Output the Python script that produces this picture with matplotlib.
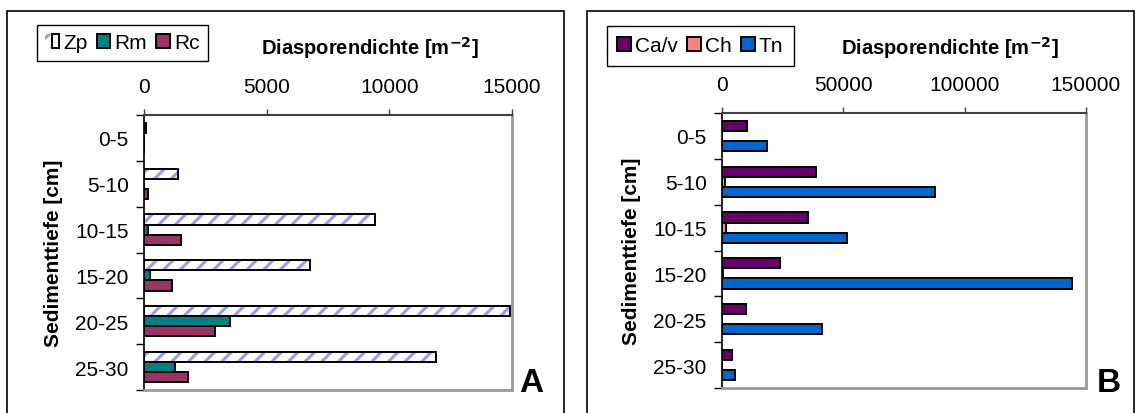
import matplotlib
matplotlib.use("Agg")
import matplotlib.pyplot as plt
from matplotlib.patches import Patch, Rectangle
from matplotlib.legend_handler import HandlerTuple

plt.rcParams['font.family'] = ['Liberation Sans', 'DejaVu Sans']
plt.rcParams['hatch.linewidth'] = 2.2

depths = ["0-5", "5-10", "10-15", "15-20", "20-25", "25-30"]

# Panel A
zp = [100, 1400, 9400, 6780, 14930, 11890]
rm = [0, 0, 150, 250, 3510, 1260]
rc = [0, 150, 1510, 1140, 2890, 1780]

# Panel B
cav = [10100, 38900, 35600, 24100, 10000, 4000]
ch = [0, 1200, 1600, 400, 0, 0]
tn = [18700, 87800, 51400, 144400, 41400, 5200]

W, H = 1135, 414
FS = 15
fig = plt.figure(figsize=(W / 100, H / 100), dpi=100)


def px_axes(left, top, right, bottom):
    return fig.add_axes([left / W, 1 - bottom / H, (right - left) / W, (bottom - top) / H])


def style_axes(ax, xmax, xticks, title_x):
    ax.set_xlim(0, xmax)
    ax.set_ylim(len(depths) - 0.5, -0.5)
    ax.set_xticks(xticks)
    ax.set_xticklabels([str(t) for t in xticks])
    ax.xaxis.tick_top()
    ax.tick_params(axis='x', direction='out', length=4, width=1, pad=10,
                   labelsize=FS, color='#404040')
    ax.set_yticks(range(len(depths)))
    ax.set_yticklabels(depths)
    ax.tick_params(axis='y', which='major', length=0, pad=11, labelsize=FS)
    ax.set_yticks([i - 0.5 for i in range(len(depths) + 1)], minor=True)
    ax.tick_params(axis='y', which='minor', direction='out', length=6, width=1)
    ax.spines['left'].set_color('black')
    ax.spines['left'].set_linewidth(1.2)
    ax.spines['top'].set_color('#404040')
    ax.spines['top'].set_linewidth(1.5)
    for s in ['right', 'bottom']:
        ax.spines[s].set_color('#999999')
        ax.spines[s].set_linewidth(2)
    fig.text(title_x / W, 1 - 48 / H, "Diasporendichte [m$^{\\mathbf{-2}}$]",
             fontsize=14.5, fontweight='bold', ha='center', va='center')
    ax.set_ylabel("Sedimenttiefe [cm]", fontsize=FS, fontweight='bold', labelpad=9)


ypos = list(range(len(depths)))
bh = 0.22
off = 0.22

# --- A ---
axA = px_axes(144, 116, 512, 391)
axA.barh([y - off for y in ypos], zp, height=bh, color='white', edgecolor='#9999ff',
         hatch='//', linewidth=0)
axA.barh([y - off for y in ypos], zp, height=bh, fill=False, edgecolor='black', linewidth=1.4)
axA.barh(ypos, rm, height=bh, color='#008080', edgecolor='black', linewidth=1.4)
axA.barh([y + off for y in ypos], rc, height=bh, color='#993366', edgecolor='black', linewidth=1.4)
style_axes(axA, 15000, [0, 5000, 10000, 15000], 370)

zp_handle = (Patch(facecolor='white', edgecolor='#9999ff', hatch='//', linewidth=0),
             Patch(fill=False, edgecolor='black', linewidth=1.4))
hA = [zp_handle,
      Patch(facecolor='#008080', edgecolor='black', linewidth=1.4),
      Patch(facecolor='#993366', edgecolor='black', linewidth=1.4)]
legA = fig.legend(hA, ["Zp", "Rm", "Rc"], loc='upper left',
                  bbox_to_anchor=(37 / W, 1 - 26 / H), ncol=3, fontsize=FS,
                  frameon=True, fancybox=False, edgecolor='black', framealpha=1,
                  handlelength=0.65, handleheight=0.65, handletextpad=0.2,
                  columnspacing=0.45, borderpad=0.4, borderaxespad=0,
                  handler_map={tuple: HandlerTuple(ndivide=None, pad=0)})
legA.get_frame().set_linewidth(1)

# --- B ---
axB = px_axes(722, 114, 1086, 389)
axB.barh([y - off for y in ypos], cav, height=bh, color='#660066', edgecolor='black', linewidth=1.4)
axB.barh(ypos, ch, height=bh, color='#ff8080', edgecolor='black', linewidth=1.4)
axB.barh([y + off for y in ypos], tn, height=bh, color='#0066cc', edgecolor='black', linewidth=1.4)
style_axes(axB, 150000, [0, 50000, 100000, 150000], 950)

hB = [Patch(facecolor='#660066', edgecolor='black', linewidth=1.4),
      Patch(facecolor='#ff8080', edgecolor='black', linewidth=1.4),
      Patch(facecolor='#0066cc', edgecolor='black', linewidth=1.4)]
legB = fig.legend(hB, ["Ca/v", "Ch", "Tn"], loc='upper left',
                  bbox_to_anchor=(607 / W, 1 - 27 / H), ncol=3, fontsize=FS,
                  frameon=True, fancybox=False, edgecolor='black', framealpha=1,
                  handlelength=0.65, handleheight=0.65, handletextpad=0.2,
                  columnspacing=0.45, borderpad=0.5, borderaxespad=0)
legB.get_frame().set_linewidth(1)

# panel letters
fig.text(519 / W, 1 - 392 / H, "A", fontsize=24, fontweight='bold', ha='left', va='baseline')
fig.text(1097 / W, 1 - 392 / H, "B", fontsize=24, fontweight='bold', ha='left', va='baseline')

# outer frames around each panel
for x0, x1 in [(7, 564), (587, 1134)]:
    fig.patches.append(Rectangle((x0 / W, -0.05), (x1 - x0) / W, 1.05 - 12 / H,
                                 transform=fig.transFigure, fill=False,
                                 edgecolor='black', linewidth=1.2))

fig.savefig("out.png", dpi=100)
